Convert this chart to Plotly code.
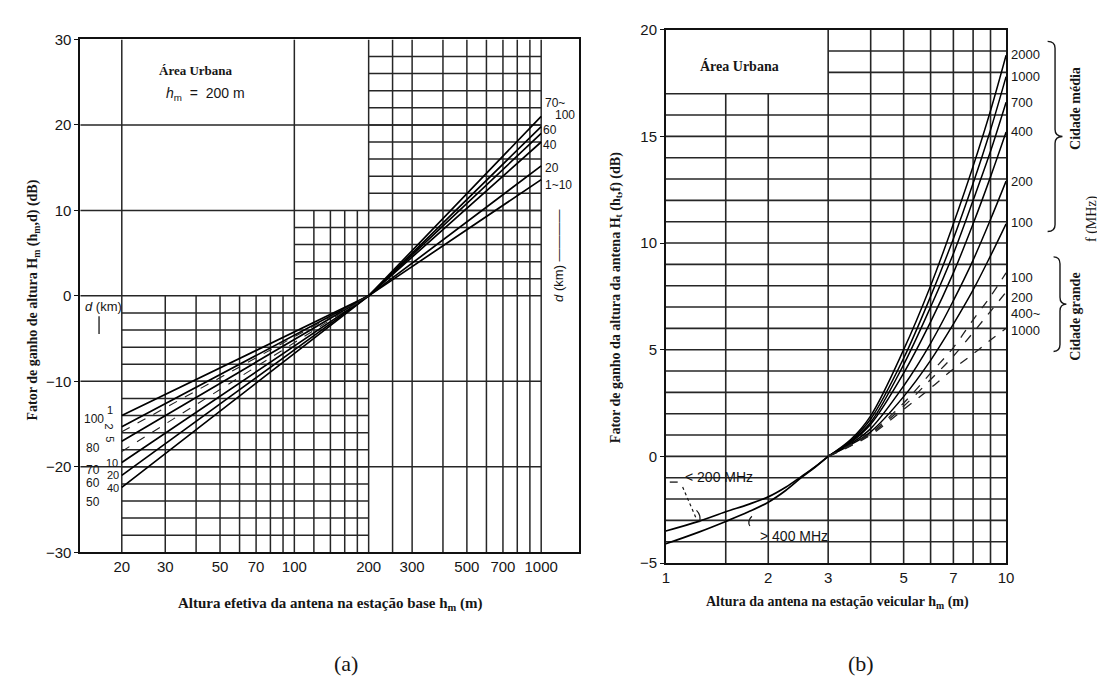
import numpy as np
import plotly.graph_objects as go

W, H = 1105, 681

# ---------------- (a) base-station antenna height gain ----------------
a_xticks = [20, 30, 50, 70, 100, 200, 300, 500, 700, 1000]
a_yticks = [-30, -20, -10, 0, 10, 20, 30]
a_curve_x = [20, 200, 1000]
a_curves = [
    [-14.0, 0.0, 13.6],
    [-15.3, 0.0, 15.2],
    [-17.0, 0.0, 18.0],
    [-19.5, 0.0, 19.0],
    [-21.0, 0.0, 19.8],
    [-22.4, 0.0, 21.0],
]
a_dash_x = [20, 200]
a_dashed = [[-15.9, 0.0], [-18.2, 0.0]]
a_right_labels = ["70~", "100", "60", "40", "20", "1~10"]
a_left_outer = ["100", "80", "70", "60", "50"]
a_left_inner = ["1", "2", "5", "10", "20", "40"]

# grid of chart (a)
a_major_h = [-20, -10, 0, 10, 20]
a_fine_h_1 = list(range(-28, 0, 2))     # between 20 and 100 m
a_fine_h_2 = list(range(-28, 10, 2))    # between 100 and 200 m
a_fine_h_3 = list(range(2, 30, 2))      # between 200 and 1000 m
a_full_v = [20, 100, 200, 250, 300, 400, 500, 600, 700, 800, 900, 1000]
a_fine_v_1 = [30, 40, 50, 60, 70, 80, 90]
a_fine_v_2 = [120, 140, 160, 180]

# ---------------- (b) mobile antenna height gain ----------------
b_xticks = [1, 2, 3, 5, 7, 10]
b_yticks = [-5, 0, 5, 10, 15, 20]
b_low_x = [1, 1.25, 1.5, 1.75, 2, 2.25, 2.5, 2.75, 3]
b_low_lt200 = [-3.5, -3.05, -2.6, -2.25, -1.9, -1.45, -0.95, -0.48, 0.0]
b_low_gt400 = [-4.1, -3.55, -3.05, -2.6, -2.15, -1.6, -1.0, -0.5, 0.0]
b_up_x = [3, 3.5, 4, 5, 6, 7, 8, 9, 10]
b_media_f = ["2000", "1000", "700", "400", "200", "100"]
b_media = [
    [0, 0.8, 1.9, 5.0, 8.0, 10.9, 13.6, 16.2, 18.8],
    [0, 0.75, 1.75, 4.6, 7.5, 10.2, 12.8, 15.3, 17.8],
    [0, 0.7, 1.6, 4.3, 7.0, 9.5, 12.0, 14.3, 16.6],
    [0, 0.65, 1.5, 3.9, 6.3, 8.6, 10.9, 13.1, 15.2],
    [0, 0.6, 1.3, 3.3, 5.3, 7.3, 9.2, 11.1, 12.9],
    [0, 0.55, 1.15, 2.8, 4.5, 6.2, 7.8, 9.4, 10.9],
]
b_grande_f = ["100", "200", "400~", "1000"]
b_grande = [
    [0, 0.55, 1.1, 2.5, 3.9, 5.1, 6.4, 7.5, 8.6],
    [0, 0.5, 1.05, 2.35, 3.6, 4.7, 5.8, 6.8, 7.7],
    [0, 0.5, 1.0, 2.2, 3.2, 4.1, 4.8, 5.45, 6.0],
]
b_h_full = list(range(-4, 18))
b_h_top = [18, 19]
b_v_short = [1.5, 2]
b_v_full = [3, 4, 5, 6, 7, 8, 9]

# ---------------- helpers ----------------
def px(x):
    return x / W

def py(y):
    return 1 - y / H

SERIF = "Liberation Serif"
SANS = "Liberation Sans"
INK = "#161616"

fig = go.Figure()

def add_segments(hvals, hx0, hx1, vvals, vy0, vy1, xa, ya, width=1.5, color="#262626", dash="solid"):
    xs, ys = [], []
    for h in hvals:
        xs += [hx0, hx1, None]
        ys += [h, h, None]
    for v in vvals:
        xs += [v, v, None]
        ys += [vy0, vy1, None]
    fig.add_trace(go.Scatter(x=xs, y=ys, mode="lines", xaxis=xa, yaxis=ya,
                             line=dict(color=color, width=width, dash=dash),
                             hoverinfo="skip", showlegend=False))

# axes geometry
a_dom_x = [px(69), px(573)]
a_px_per_dec = (535 - 111) / (3 - np.log10(20))
a_range_x = [np.log10(20) - (111 - 69) / a_px_per_dec, 3 + (573 - 535) / a_px_per_dec]
a_xmin = 10 ** a_range_x[0]

# grid (a)
add_segments(a_major_h, a_xmin, 1000, [], 0, 0, "x", "y")
add_segments(a_fine_h_1, 20, 100, a_fine_v_1, -30, 0, "x", "y")
add_segments(a_fine_h_2, 100, 200, a_fine_v_2, -30, 10, "x", "y")
add_segments(a_fine_h_3, 200, 1000, a_full_v, -30, 30, "x", "y")

# curves (a)
for c in a_curves:
    fig.add_trace(go.Scatter(x=a_curve_x, y=c, mode="lines", xaxis="x", yaxis="y",
                             line=dict(color="#000", width=1.7), hoverinfo="skip", showlegend=False))
for c in a_dashed:
    fig.add_trace(go.Scatter(x=a_dash_x, y=c, mode="lines", xaxis="x", yaxis="y",
                             line=dict(color="#222", width=1.1, dash="dash"), hoverinfo="skip",
                             showlegend=False))

# grid (b)
add_segments(b_h_full, 1, 10, b_v_short, -5, 17, "x2", "y2", width=1.6)
add_segments(b_h_top, 3, 10, b_v_full, -5, 20, "x2", "y2", width=1.6)

# curves (b)
for yv in (b_low_lt200, b_low_gt400):
    fig.add_trace(go.Scatter(x=b_low_x, y=yv, mode="lines", xaxis="x2", yaxis="y2",
                             line=dict(color="#000", width=1.7, shape="spline"),
                             hoverinfo="skip", showlegend=False))
for yv in b_media:
    fig.add_trace(go.Scatter(x=b_up_x, y=yv, mode="lines", xaxis="x2", yaxis="y2",
                             line=dict(color="#000", width=1.5, shape="spline"),
                             hoverinfo="skip", showlegend=False))
for yv in b_grande:
    fig.add_trace(go.Scatter(x=b_up_x, y=yv, mode="lines", xaxis="x2", yaxis="y2",
                             line=dict(color="#222", width=1.3, dash="dash", shape="spline"),
                             hoverinfo="skip", showlegend=False))

tickfont = dict(family=SANS, size=15, color=INK)
axis_common = dict(showgrid=False, zeroline=False, showline=True, mirror=True,
                   linecolor="#111", linewidth=1.6, tickfont=tickfont)

fig.update_layout(
    width=W, height=H, margin=dict(l=0, r=0, t=0, b=0),
    paper_bgcolor="white", plot_bgcolor="white", showlegend=False, hovermode=False,
    xaxis=dict(type="log", domain=a_dom_x, range=a_range_x, anchor="y",
               tickvals=a_xticks, ticktext=[str(v) for v in a_xticks], ticks="", **axis_common),
    yaxis=dict(domain=[py(549), py(23)], range=[-30, 30], anchor="x",
               tickvals=a_yticks, ticks="outside", ticklen=4, tickcolor="#111", **axis_common),
    xaxis2=dict(type="log", domain=[px(661), px(1005)], range=[0, 1], anchor="y2",
                tickvals=b_xticks, ticktext=[str(v) for v in b_xticks], ticks="", **axis_common),
    yaxis2=dict(domain=[py(560), py(13)], range=[-5, 20], anchor="x2",
                tickvals=b_yticks, ticks="outside", ticklen=4, tickcolor="#111", **axis_common),
)

ann = []

def text(x, y, s, size=14, family=SANS, angle=0, xanchor="center", color=INK):
    ann.append(dict(x=px(x), y=py(y), xref="paper", yref="paper", text=s, showarrow=False,
                    font=dict(family=family, size=size, color=color), textangle=angle,
                    xanchor=xanchor, yanchor="middle"))

# --- chart (a) texts
text(186, 55, "<b>Área Urbana</b>", 13, SERIF)
text(196, 79, "<i>h</i><sub>m</sub>  =  200 m", 14, SANS)
a_right_pos = [(537, 88), (547, 101), (535, 116), (535, 131), (537, 155), (537, 172)]
for s, (x, y) in zip(a_right_labels, a_right_pos):
    text(x, y, s, 12, SANS, xanchor="left")
text(553, 245, "<i>d</i> (km) ————", 13, SANS, angle=-90)
text(72, 297, "<i>d</i> (km)", 13, SANS, xanchor="left")
a_outer_pos = [(95, 412), (91, 442), (91, 465), (91, 478), (91, 497)]
for s, (x, y) in zip(a_left_outer, a_outer_pos):
    ann.append(dict(x=px(x), y=py(y), xref="paper", yref="paper", text=s, showarrow=False,
                    font=dict(family=SANS, size=12, color=INK), xanchor="right", yanchor="middle"))
a_inner_pos = [(99, 403), (99, 420), (99, 433), (101, 457), (102, 470), (102, 483)]
for i, (s, (x, y)) in enumerate(zip(a_left_inner, a_inner_pos)):
    text(x, y, s, 11, SANS, angle=90 if i in (1, 2) else 0)
text(22, 290, "<b>Fator de ganho de altura H<sub>m</sub> (h<sub>m</sub>,d) (dB)</b>", 14, SERIF, angle=-90)
text(322, 602, "<b>Altura efetiva da antena na estação base h<sub>m</sub> (m)</b>", 15, SERIF)
text(338, 663, "(a)", 22, SERIF)

# --- chart (b) texts
text(735, 50, "<b>Área Urbana</b>", 14, SERIF)
b_media_y = [38, 61, 88, 117, 169, 211]
for s, y in zip(b_media_f, b_media_y):
    text(1008, y, s, 13, SANS, xanchor="left")
b_grande_y = [267, 288, 304, 322]
for s, y in zip(b_grande_f, b_grande_y):
    text(1008, y, s, 13, SANS, xanchor="left")
text(1075, 94, "<b>Cidade média</b>", 14, SERIF, angle=-90)
text(1092, 207, "f (MHz)", 14, SERIF, angle=-90)
text(1075, 307, "<b>Cidade grande</b>", 14, SERIF, angle=-90)
text(715, 472, "< 200 MHz", 14, SANS)
text(791, 532, "> 400 MHz", 14, SANS)
text(611, 288, "<b>Fator de ganho da altura da antena H<sub>t</sub> (h<sub>t</sub>,f) (dB)</b>", 14, SERIF, angle=-90)
text(835, 601, "<b>Altura da antena na estação veicular h<sub>m</sub> (m)</b>", 14, SERIF)
text(858, 663, "(b)", 22, SERIF)

fig.update_layout(annotations=ann)

# --- decorations: braces and leader lines (paper coords)
def brace(x0, x1, ytop, ybot, r=7):
    xm = (x0 + x1) / 2
    yc = (ytop + ybot) / 2
    P = lambda x, y: f"{px(x):.5f},{py(y):.5f}"
    return (f"M {P(x0, ytop)} Q {P(xm, ytop)} {P(xm, ytop + r)} L {P(xm, yc - r)} "
            f"Q {P(xm, yc)} {P(x1, yc)} Q {P(xm, yc)} {P(xm, yc + r)} L {P(xm, ybot - r)} "
            f"Q {P(xm, ybot)} {P(x0, ybot)}")

shapes = [
    dict(type="path", xref="paper", yref="paper", path=brace(1047, 1062, 25, 220),
         line=dict(color=INK, width=1.4)),
    dict(type="path", xref="paper", yref="paper", path=brace(1053, 1066, 246, 343),
         line=dict(color=INK, width=1.4)),
    dict(type="line", xref="paper", yref="paper", x0=px(665), y0=py(477), x1=px(673), y1=py(477),
         line=dict(color=INK, width=1.3)),
    dict(type="line", xref="paper", yref="paper", x0=px(678), y0=py(482), x1=px(692), y1=py(515),
         line=dict(color=INK, width=1.2, dash="dot")),
    dict(type="path", xref="paper", yref="paper",
         path=f"M {px(692):.5f},{py(506):.5f} Q {px(697):.5f},{py(511):.5f} {px(695):.5f},{py(518):.5f}",
         line=dict(color=INK, width=1.2)),
    dict(type="path", xref="paper", yref="paper",
         path=f"M {px(748):.5f},{py(512):.5f} Q {px(743):.5f},{py(517):.5f} {px(746):.5f},{py(522):.5f}",
         line=dict(color=INK, width=1.2)),
    dict(type="line", xref="paper", yref="paper", x0=px(88), y0=py(307), x1=px(88), y1=py(325),
         line=dict(color=INK, width=1.3)),
]
fig.update_layout(shapes=shapes)

fig.write_html("out.html")
